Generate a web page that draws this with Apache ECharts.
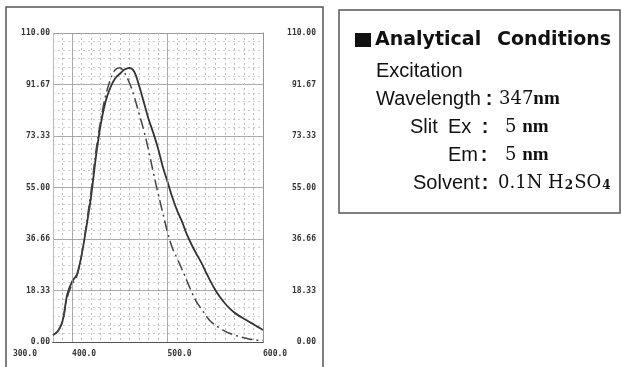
<!DOCTYPE html>
<html><head><meta charset="utf-8">
<script src="https://cdn.jsdelivr.net/npm/echarts@6/dist/echarts.min.js"></script>
<style>html,body{margin:0;padding:0;background:#fff}#c{width:621px;height:367px}</style>
</head><body><div id="c"></div>
<script>
// ---- data ----
const wavelengths = [380,385,390,395,400,405,410,415,420,425,430,435,440,445,450,455,460,465,470,475,480,485,490,495,500,505,510,515,520,525,530,535,540,545,550,555,560,565,570,575,580,585,590,595,600];
const solidIntensity = [2.5,3.8,7.5,17,21.5,24,31,41,52,66,77.5,85.5,90.5,93.8,95.5,97,97.6,96.3,91.5,85.5,79.5,74.5,69,62.4,57,51.5,46.8,43,38.5,34.8,31.5,28.5,25,21.6,18.5,16,13.8,12,10.5,9.3,8.3,7.3,6.3,5.3,4.3];
const dashDotIntensity = [2.5,3.8,7.2,16,20.5,23.5,31,42,54,68,79,87.5,93.3,96.8,97.6,95.8,92.3,87.5,81.5,75.5,68.5,60.5,53,46,39,33.5,29.8,26,22,18,14.5,12,9.5,7.4,6,4.9,3.9,3.1,2.5,2,1.5,1.1,0.8,0.6,0.5];
const majorWavelengths = [400,500,600];
const xTickValues = [380,400,500,600];
const xTickLabels = ['300.0','400.0','500.0','600.0'];
const yTickLabels = ['0.00','18.33','36.66','55.00','73.33','91.67','110.00'];
const conditionTitle = ['Analytical','Conditions'];
const conditionRows = [
  {label:'Wavelength', value:'{v|347}{u|nm}'},
  {label:'Ex', value:'{v|5 }{u|nm}'},
  {label:'Em', value:'{v|5 }{u|nm}'},
  {label:'Solvent', value:'{v|0.1N H}{s|2}{v|SO}{s|4}'}
];

const X_MIN = 380, X_MAX = 600, Y_MAX = 110, Y_STEP = Y_MAX / 6;
const tickFont = {fontFamily:'DejaVu Sans Mono', fontSize:8, fontWeight:'bold', color:'#333'};
function yLabel(v){ const i = Math.round(v / Y_STEP); return Math.abs(v - i * Y_STEP) < 0.05 ? yTickLabels[i] : ''; }
function pairs(vals){ return wavelengths.map((w,i)=>[w, vals[i]]); }

const chart = echarts.init(document.getElementById('c'));
const rowY = [99, 127, 155, 183];
const labelX = [376, 448, 448, 413];
const colonX = [489, 485, 484, 485];
const valueX = [499, 505, 505, 498];
const bodyFont = '20px "Liberation Sans"';
const graphics = [
  {type:'rect', shape:{x:6, y:7, width:317, height:380}, style:{fill:'none', stroke:'#555', lineWidth:1.5}, silent:true},
  {type:'rect', shape:{x:339, y:10, width:281, height:203}, style:{fill:'none', stroke:'#555', lineWidth:1.5}, silent:true},
  {type:'rect', shape:{x:355, y:33, width:16, height:14}, style:{fill:'#111'}, silent:true},
  {type:'text', x:375, y:40, style:{text:conditionTitle[0], font:'bold 19px "DejaVu Sans"', fill:'#111', verticalAlign:'middle'}},
  {type:'text', x:497, y:40, style:{text:conditionTitle[1], font:'bold 19px "DejaVu Sans"', fill:'#111', verticalAlign:'middle'}},
  {type:'text', x:376, y:71.5, style:{text:'Excitation', font:bodyFont, fill:'#111', verticalAlign:'middle'}},
  {type:'text', x:410, y:rowY[1], style:{text:'Slit', font:bodyFont, fill:'#111', verticalAlign:'middle'}}
];
const rich = {
  v:{fontFamily:'DejaVu Serif', fontSize:18, color:'#111', verticalAlign:'bottom'},
  u:{fontFamily:'Liberation Serif', fontSize:19, fontWeight:'bold', color:'#111', verticalAlign:'bottom'},
  s:{fontFamily:'DejaVu Serif', fontSize:12, fontWeight:'bold', color:'#111', verticalAlign:'bottom', padding:[0,1,0,1]}
};
conditionRows.forEach((r,i)=>{
  graphics.push({type:'text', x:labelX[i], y:rowY[i], style:{text:r.label, font:bodyFont, fill:'#111', verticalAlign:'middle'}});
  graphics.push({type:'text', x:colonX[i], y:rowY[i], style:{text:':', font:'bold 20px "Liberation Sans"', fill:'#111', align:'center', verticalAlign:'middle'}});
  graphics.push({type:'text', x:valueX[i], y:rowY[i], style:{text:r.value, verticalAlign:'middle', fill:'#111', rich:rich}});
});

chart.setOption({
  animation:false,
  backgroundColor:'#fff',
  grid:{left:53, right:358, top:33, bottom:25, containLabel:false},
  xAxis:[
    {type:'value', min:X_MIN, max:X_MAX, interval:10, position:'bottom',
     axisLine:{show:true, lineStyle:{color:'#444', width:1.2}}, axisTick:{show:false},
     splitLine:{show:true, lineStyle:{color:'#bdbdbd', type:[2,3], width:1}},
     axisLabel:{show:true, showMinLabel:true, showMaxLabel:true, align:'left', margin:8, ...tickFont,
       formatter:v=>{const i = xTickValues.indexOf(Math.round(v)); return i > 0 ? xTickLabels[i] : '';}}},
    {type:'value', min:X_MIN, max:X_MAX, interval:10, position:'bottom',
     axisLine:{show:false}, axisTick:{show:false}, splitLine:{show:false},
     axisLabel:{show:true, showMinLabel:true, showMaxLabel:false, align:'right', margin:8, ...tickFont,
       formatter:v=>{const i = xTickValues.indexOf(Math.round(v)); return i === 0 ? '{p|' + xTickLabels[0] + '}' : '';},
       rich:{p:{fontFamily:'DejaVu Sans Mono', fontSize:8, fontWeight:'bold', color:'#333', padding:[0,16,0,0]}}}},
    {type:'value', min:X_MIN, max:X_MAX, position:'top',
     axisLine:{show:true, lineStyle:{color:'#555', width:1.2}}, axisTick:{show:false}, splitLine:{show:false}, axisLabel:{show:false}}
  ],
  yAxis:[
    {type:'value', min:0, max:Y_MAX, interval:Y_STEP / 6, position:'left',
     axisLine:{show:false}, axisTick:{show:false}, axisLabel:{show:false},
     splitLine:{show:true, lineStyle:{color:'#cfcfcf', type:[2,3], width:1}}},
    {type:'value', min:0, max:Y_MAX, interval:Y_STEP, position:'left',
     axisLine:{show:true, lineStyle:{color:'#bbb', width:1}}, axisTick:{show:false},
     splitLine:{show:true, lineStyle:{color:'#999', width:0.8}},
     axisLabel:{show:true, margin:3, ...tickFont, formatter:yLabel}},
    {type:'value', min:0, max:Y_MAX, interval:Y_STEP, position:'right',
     axisLine:{show:true, lineStyle:{color:'#888', width:1}}, axisTick:{show:false}, splitLine:{show:false},
     axisLabel:{show:true, align:'right', margin:53, ...tickFont, formatter:yLabel}}
  ],
  series:[
    {type:'line', xAxisIndex:0, yAxisIndex:1, data:[], silent:true, z:1,
     markLine:{silent:true, symbol:'none', label:{show:false}, lineStyle:{color:'#999', type:'solid', width:0.8},
       data:majorWavelengths.map(w=>({xAxis:w}))}},
    {type:'line', name:'solid', xAxisIndex:0, yAxisIndex:1, data:pairs(solidIntensity), smooth:0.35, showSymbol:false, z:3,
     lineStyle:{color:'#333', width:1.8}},
    {type:'line', name:'dashdot', xAxisIndex:0, yAxisIndex:1, data:pairs(dashDotIntensity), smooth:0.35, showSymbol:false, z:3,
     lineStyle:{color:'#444', width:1.5, type:[11,4,2,4]}}
  ],
  graphic:graphics
});
</script></body></html>
